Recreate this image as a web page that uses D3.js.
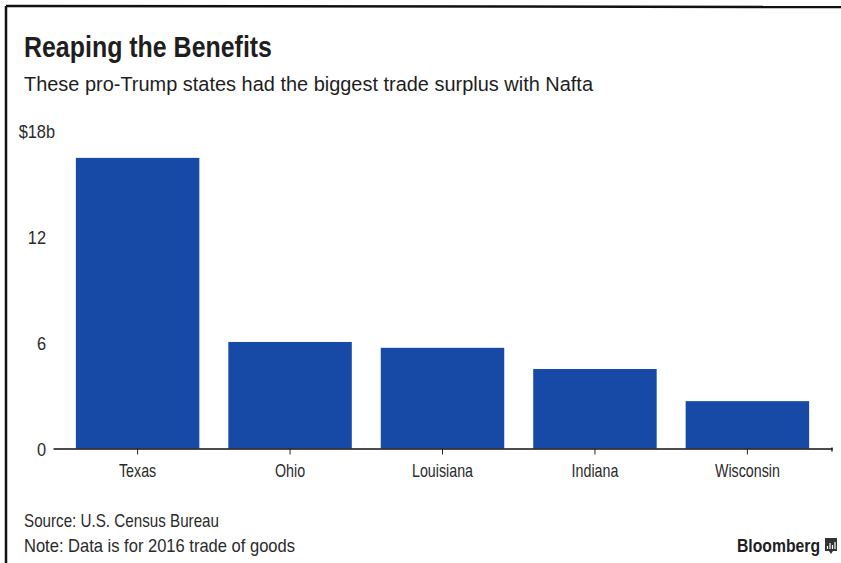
<!DOCTYPE html>
<html>
<head>
<meta charset="utf-8">
<script src="https://cdn.jsdelivr.net/npm/d3@7"></script>
<style>
  body { margin: 0; background: #fff; }
  svg { display: block; }
  text { font-family: "Liberation Sans", Arial, sans-serif; fill: #1e1e1e; }
</style>
</head>
<body>
<script>
// values, $ billions, 2016 trade surplus with Nafta
var states = ["Texas", "Ohio", "Louisiana", "Indiana", "Wisconsin"];
var surplus = [16.45, 6.03, 5.7, 4.5, 2.68];
var yTicks = [0, 6, 12, 18];

var width = 841, height = 563;
var svg = d3.select("body").append("svg")
	.attr("width", width)
	.attr("height", height);

// scanned frame: top and left rule only
svg.append("line")
	.attr("x1", 6).attr("y1", 6).attr("x2", width).attr("y2", 7)
	.attr("stroke", "#111").attr("stroke-width", 2.5);
svg.append("line")
	.attr("x1", 6).attr("y1", 6).attr("x2", 6).attr("y2", height)
	.attr("stroke", "#111").attr("stroke-width", 2.5);

// the original face is a condensed grotesque, so squeeze Liberation Sans
var condense = function(sel, ratio){
	sel.each(function(){
		var len = this.getComputedTextLength();
		if(len > 0){
			d3.select(this)
				.attr("textLength", len * ratio)
				.attr("lengthAdjust", "spacingAndGlyphs");
		}
	});
	return sel;
};
var fit = function(sel, w){
	if(sel.node().getComputedTextLength() > 0){
		sel.attr("textLength", w).attr("lengthAdjust", "spacingAndGlyphs");
	}
	return sel;
};

fit(svg.append("text")
	.attr("x", 24).attr("y", 57)
	.style("font-size", "29px").style("font-weight", "bold")
	.text("Reaping the Benefits"), 248);

fit(svg.append("text")
	.attr("x", 24).attr("y", 91)
	.style("font-size", "20.5px")
	.text("These pro-Trump states had the biggest trade surplus with Nafta"), 569);

var x = d3.scaleBand()
	.domain(states)
	.range([53, 832])
	.paddingInner(0.19)
	.paddingOuter(0.15);

var y = d3.scaleLinear()
	.domain([0, 18])
	.range([448.5, 130.5]);

svg.selectAll("rect.bar")
	.data(states)
	.enter().append("rect")
		.attr("class", "bar")
		.attr("x", function(d){ return x(d); })
		.attr("width", x.bandwidth())
		.attr("y", function(d, i){ return y(surplus[i]); })
		.attr("height", function(d, i){ return y(0) - y(surplus[i]); })
		.attr("fill", "#174aa7");

// y axis: labels only
var yAxis = svg.append("g")
	.attr("transform", "translate(46,0)")
	.call(d3.axisLeft(y)
		.tickValues(yTicks)
		.tickSize(0)
		.tickPadding(0)
		.tickFormat(function(d){ return d === 18 ? "$18b" : d; }));
yAxis.select(".domain").remove();
yAxis.selectAll("text")
	.style("font-size", "19px")
	.style("font-family", null)
	.style("fill", "#2a2a2a")
	.attr("x", function(d){ return d === 18 ? 9 : 0; })
	.attr("dy", "0.35em");
condense(yAxis.selectAll("text"), 0.86);

// x axis along zero
var xAxis = svg.append("g")
	.attr("transform", "translate(0," + y(0) + ")")
	.call(d3.axisBottom(x)
		.tickSizeOuter(0)
		.tickSizeInner(6)
		.tickPadding(9));
xAxis.select(".domain").attr("stroke", "#111").attr("stroke-width", 1.3);
xAxis.selectAll(".tick line").attr("stroke", "#222");
xAxis.selectAll("text")
	.style("font-size", "19px")
	.style("font-family", null)
	.style("fill", "#2a2a2a");
condense(xAxis.selectAll("text"), 0.75);
// tiny end tick at the right
xAxis.append("line")
	.attr("x1", 832).attr("x2", 832).attr("y1", -1).attr("y2", 3)
	.attr("stroke", "#111").attr("stroke-width", 1.3);

fit(svg.append("text")
	.attr("x", 24).attr("y", 527)
	.style("font-size", "19px")
	.style("fill", "#2a2a2a")
	.text("Source: U.S. Census Bureau"), 195);
fit(svg.append("text")
	.attr("x", 24).attr("y", 552)
	.style("font-size", "19px")
	.style("fill", "#2a2a2a")
	.text("Note: Data is for 2016 trade of goods"), 271);

fit(svg.append("text")
	.attr("x", 737).attr("y", 552)
	.style("font-size", "18.5px")
	.style("font-weight", "bold")
	.text("Bloomberg"), 83);

// little logo box
var logo = svg.append("g").attr("transform", "translate(825,538)");
logo.append("path")
	.attr("d", "M0,0 H12 V13 H8 L6,16 L4,13 H0 Z")
	.attr("fill", "#333");
[[2.5, 8], [5, 5], [7.5, 7], [10, 4]].forEach(function(b){
	logo.append("line")
		.attr("x1", b[0]).attr("x2", b[0]).attr("y1", 11).attr("y2", b[1])
		.attr("stroke", "#fff").attr("stroke-width", 1.2);
});
</script>
</body>
</html>
